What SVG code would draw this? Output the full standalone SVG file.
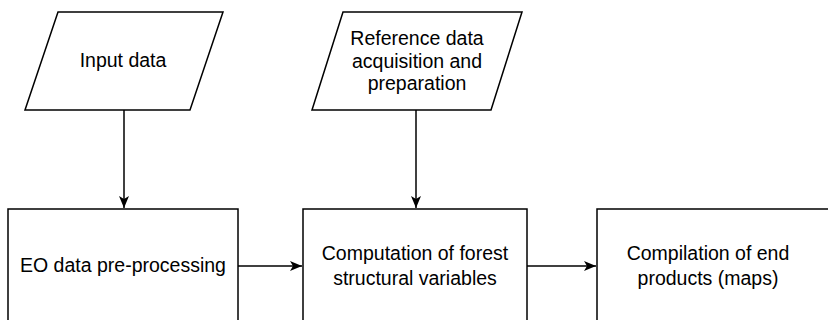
<svg xmlns="http://www.w3.org/2000/svg" width="828" height="320" viewBox="0 0 828 320">
<style>
.s{fill:#fff;stroke:#000;stroke-width:1.5}
.t{font-family:"Liberation Sans",Arial,sans-serif;font-size:19.5px;fill:#000;text-anchor:middle}
.c{stroke:#000;stroke-width:1.5;fill:none}
</style>
<defs>
<marker id="ah" viewBox="0 0 12 10" refX="12" refY="5" markerWidth="12" markerHeight="10" markerUnits="userSpaceOnUse" orient="auto">
<path d="M0,0 L12,5 L0,10 L3,5 Z" fill="#000"/>
</marker>
</defs>
<rect width="828" height="320" fill="#fff"/>
<g id="input">
<polygon class="s" points="58,12 223,12 190,110 25,110"/>
<text class="t" x="123" y="67">Input data</text>
</g>
<g id="reference">
<polygon class="s" points="343,12 522,12 491,110 312,110"/>
<text class="t" x="417" y="45">Reference data</text>
<text class="t" x="417" y="67.5">acquisition and</text>
<text class="t" x="417" y="90">preparation</text>
</g>
<g id="preproc">
<rect class="s" x="8" y="209" width="230" height="115"/>
<text class="t" x="123" y="272">EO data pre-processing</text>
</g>
<g id="computation">
<rect class="s" x="303" y="209" width="224" height="115"/>
<text class="t" x="415" y="260">Computation of forest</text>
<text class="t" x="415" y="285">structural variables</text>
</g>
<g id="compilation">
<rect class="s" x="597" y="209" width="240" height="115"/>
<text class="t" x="708" y="260">Compilation of end</text>
<text class="t" x="708" y="285">products (maps)</text>
</g>
<g id="connectors">
<line class="c" x1="124" y1="110" x2="124" y2="208" marker-end="url(#ah)"/>
<line class="c" x1="416" y1="110" x2="416" y2="208" marker-end="url(#ah)"/>
<line class="c" x1="238" y1="266" x2="302" y2="266" marker-end="url(#ah)"/>
<line class="c" x1="527" y1="266" x2="596" y2="266" marker-end="url(#ah)"/>
</g>
</svg>
